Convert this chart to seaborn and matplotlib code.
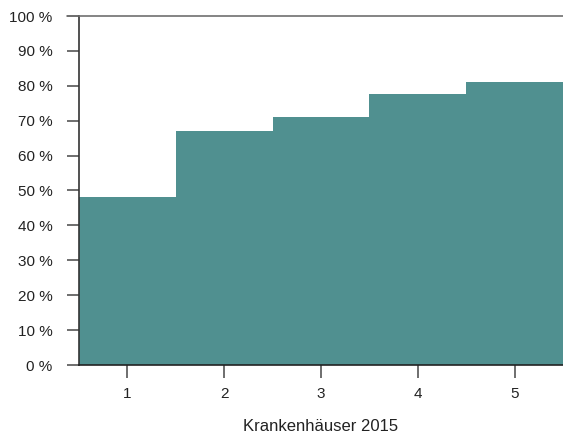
import matplotlib.pyplot as plt
import seaborn as sns
import pandas as pd

sns.set_style("white")
plt.rcParams['font.family'] = ['Liberation Sans', 'DejaVu Sans']

# Values (percent)
jahre = [1, 2, 3, 4, 5]
anteil = [48.1, 67.0, 71.1, 77.6, 81.1]
y_ticks = [0, 10, 20, 30, 40, 50, 60, 70, 80, 90, 100]

df = pd.DataFrame({"x": jahre, "y": anteil})

fig = plt.figure(figsize=(5.63, 4.40), dpi=100)
ax = fig.add_axes([79 / 563, 1 - 365 / 440, 1 - 79 / 563, (365 - 16) / 440])

sns.barplot(data=df, x="x", y="y", native_scale=True, width=1.0,
            color="#509090", saturation=1, linewidth=0, ax=ax)

ax.set_xlim(0.5, 5.5)
ax.set_ylim(0, 100)
ax.set_xticks(jahre)
ax.set_xticklabels([str(j) for j in jahre])
ax.set_yticks(y_ticks)
ax.set_yticklabels([f"{t} %" for t in y_ticks])
ax.set_xlabel("Krankenhäuser 2015", fontsize=12, color="#222222", labelpad=13)
ax.set_ylabel("")

ax.spines["right"].set_visible(False)
ax.spines["left"].set_color("#333333")
ax.spines["bottom"].set_color("#222222")
ax.spines["top"].set_color("#707070")
for s in ["left", "bottom", "top"]:
    ax.spines[s].set_linewidth(1.2)

ax.tick_params(axis="y", length=9, width=1.2, color="#555555", pad=10,
               labelsize=11, labelcolor="#222222", left=True)
ax.tick_params(axis="x", length=9, width=1.2, color="#555555", pad=7,
               labelsize=11, labelcolor="#222222", bottom=True)

# extend the top line to the left like the 100 % tick
ax.plot([0.5 - 12 / 97, 0.5], [100, 100], color="#707070", lw=1.2, clip_on=False)

fig.savefig("out.png", dpi=100)
